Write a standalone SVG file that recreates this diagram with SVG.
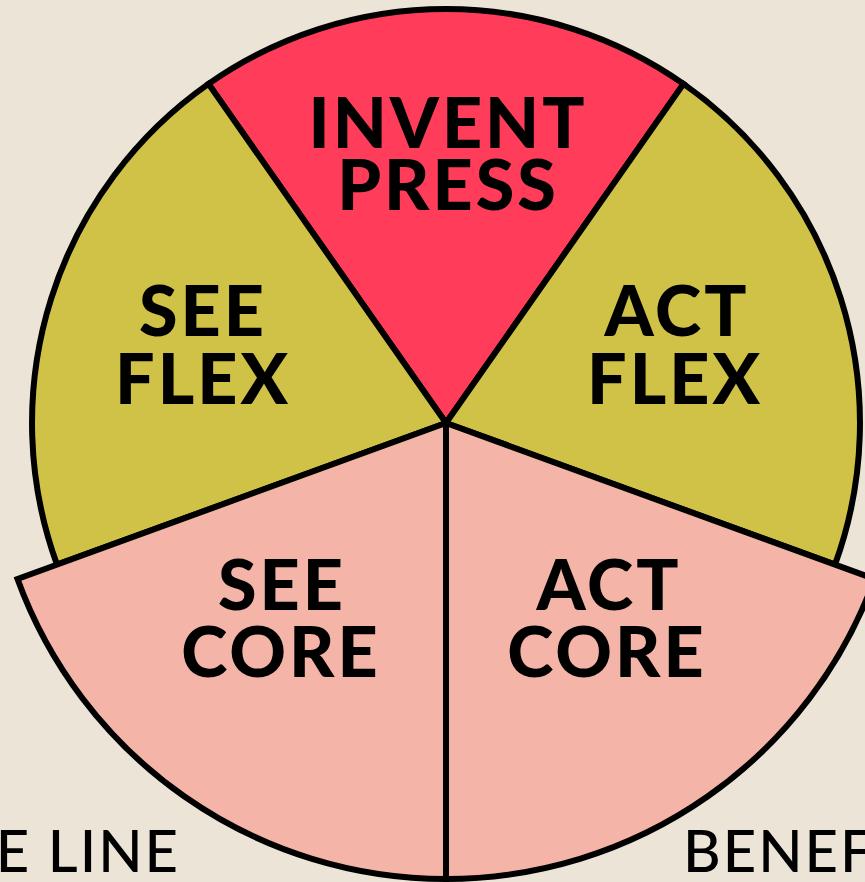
<svg xmlns="http://www.w3.org/2000/svg" width="865" height="882" viewBox="0 0 865 882">
<style>
.seg{stroke:#000;stroke-width:6;stroke-linejoin:miter}
.red{fill:#FF3D5A}
.olive{fill:#CFC246}
.pink{fill:#F4B5A8}
.lbl{font-family:Lato,"DejaVu Sans",sans-serif;font-weight:900;font-size:70px;letter-spacing:3px;fill:#000;text-anchor:middle}
.edge{font-family:Lato,"DejaVu Sans",sans-serif;font-weight:500;font-size:58px;letter-spacing:2px;fill:#000}
</style>
<rect width="865" height="882" fill="#EDE4D8"/>
<g id="invent-press">
<path class="seg red" d="M446,423 L208.5,83.9 A414,414 0 0 1 683.5,83.9 Z"/>
<text class="lbl" x="448" y="148">INVENT</text>
<text class="lbl" x="448" y="210">PRESS</text>
</g>
<g id="act-flex">
<path class="seg olive" d="M446,423 L683.5,83.9 A414,414 0 0 1 835,564.6 Z"/>
<text class="lbl" x="677" y="336">ACT</text>
<text class="lbl" x="675" y="404">FLEX</text>
</g>
<g id="see-flex">
<path class="seg olive" d="M446,423 L57,564.6 A414,414 0 0 1 208.5,83.9 Z"/>
<text class="lbl" x="203" y="336">SEE</text>
<text class="lbl" x="203" y="404">FLEX</text>
</g>
<g id="act-core">
<path class="seg pink" d="M446,423 L874.5,579 A456,456 0 0 1 446,879 Z"/>
<text class="lbl" x="609" y="610">ACT</text>
<text class="lbl" x="607" y="677">CORE</text>
</g>
<g id="see-core">
<path class="seg pink" d="M446,423 L446,879 A456,456 0 0 1 17.5,579 Z"/>
<text class="lbl" x="282" y="610">SEE</text>
<text class="lbl" x="281" y="677">CORE</text>
</g>
<g id="edge-labels">
<text class="edge" x="180" y="872" text-anchor="end">E LINE</text>
<text class="edge" x="683" y="872">BENEF</text>
</g>
</svg>
